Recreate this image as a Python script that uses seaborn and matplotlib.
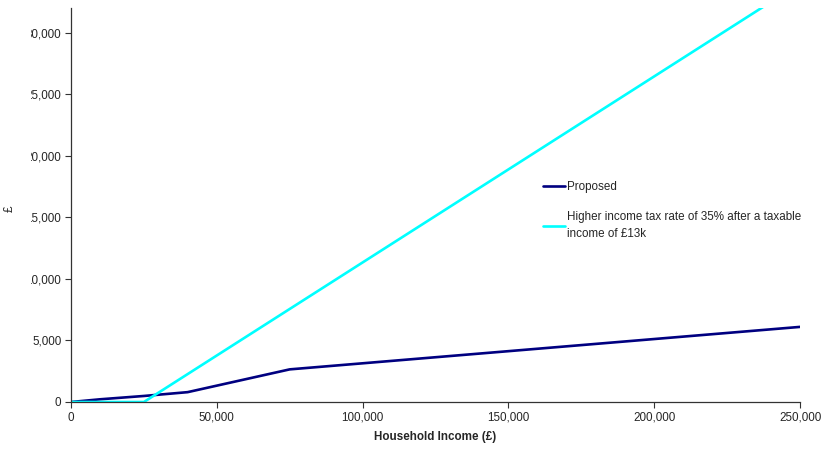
import matplotlib
matplotlib.use("Agg")
import matplotlib.pyplot as plt
import seaborn as sns
import pandas as pd
from matplotlib.transforms import Bbox, TransformedBbox

# household income points (£)
income_proposed = [0, 10000, 25000, 40000, 75000, 250000]
tax_proposed = [0, 220, 490, 800, 2650, 6100]

income_higher = [0, 25000, 250000]
tax_higher = [0, 0, 34000]

label_proposed = "Proposed"
label_higher = "Higher income tax rate of 35% after a taxable\nincome of £13k"

df = pd.concat([
    pd.DataFrame({"income": income_proposed, "tax": tax_proposed, "series": label_proposed}),
    pd.DataFrame({"income": income_higher, "tax": tax_higher, "series": label_higher}),
])

sns.set_style("white")
plt.rcParams["font.family"] = ["Liberation Sans", "DejaVu Sans"]

fig = plt.figure(figsize=(8.21, 4.51), dpi=100)
ax = fig.add_axes([71 / 821, 1 - 402 / 451, (800 - 71) / 821, (402 - 8) / 451])

sns.lineplot(data=df, x="income", y="tax", hue="series",
             palette={label_proposed: "#000080", label_higher: "#00FFFF"},
             linewidth=1.9, ax=ax, sort=False, estimator=None)

ax.set_xlim(0, 250000)
ax.set_ylim(0, 32000)
ax.set_xticks(range(0, 250001, 50000))
ax.set_yticks(range(0, 30001, 5000))
ax.xaxis.set_major_formatter(matplotlib.ticker.StrMethodFormatter("{x:,.0f}"))
ax.yaxis.set_major_formatter(matplotlib.ticker.StrMethodFormatter("{x:,.0f}"))
ax.tick_params(axis="both", labelsize=8.4, direction="out", length=4, width=0.8,
               color="#333333", left=True, bottom=True, pad=3)

for s in ["top", "right"]:
    ax.spines[s].set_visible(False)
for s in ["left", "bottom"]:
    ax.spines[s].set_color("#333333")
    ax.spines[s].set_linewidth(0.9)

ax.set_xlabel("Household Income (£)", fontsize=8.4, fontweight="bold", labelpad=5)
ax.set_ylabel("")
fig.text(10 / 821, 1 - 209 / 451, "£", rotation=90, fontsize=8.4, ha="center", va="center")

# the y tick labels are cut off on the left in the original
clip = TransformedBbox(Bbox([[31.3 / 821, 0], [1, 1]]), fig.transFigure)
fig.canvas.draw()
for lab in ax.get_yticklabels():
    lab.set_clip_box(clip)
    lab.set_clip_on(True)

leg = ax.legend(loc="upper left", bbox_to_anchor=(537 / 821, 1 - 175 / 451),
                bbox_transform=fig.transFigure, frameon=False, fontsize=8.4,
                handlelength=1.9, handletextpad=0.15, labelspacing=1.6, borderpad=0)
for t in leg.get_texts():
    t.set_linespacing(1.45)

fig.savefig("out.png", dpi=100)
